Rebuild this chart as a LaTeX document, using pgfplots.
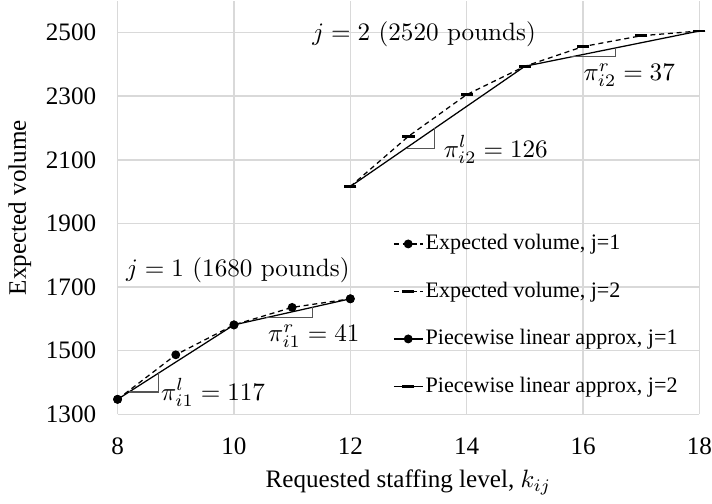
\documentclass[border=0pt]{standalone}
\usepackage{fontspec}
\setmainfont{Liberation Serif}
\newfontfamily\lmfont{Latin Modern Roman}
\usepackage{pgfplots}
\pgfplotsset{compat=1.18}

\definecolor{gridgray}{RGB}{217,217,217}
\definecolor{slopegray}{RGB}{85,85,85}

\begin{document}
\begin{tikzpicture}
\begin{axis}[
  scale only axis, width=231.6pt, height=164.6pt,
  xmin=8, xmax=18, ymin=1300, ymax=2600,
  xtick={8,10,...,18}, ytick={1300,1500,...,2500},
  grid=major, grid style={gridgray, line width=0.6pt},
  axis line style={draw=none}, major tick length=0pt,
  /pgf/number format/assume math mode=true,
  /pgf/number format/1000 sep={},
  xticklabel style={yshift=-6pt, inner xsep=0pt},
  yticklabel style={xshift=-5pt},
  xlabel={Requested staffing level, $k_{ij}$},
  xlabel style={yshift=1pt},
  ylabel={Expected volume},
  ylabel style={yshift=-1pt},
  legend cell align=left,
  legend style={draw=none, fill=none, font=\fontsize{8.8}{10.5}\selectfont,
    at={(axis cs:12.73,1875)}, anchor=north west,
    row sep=9.3pt, inner sep=0pt, nodes={inner sep=1pt}},
  legend image code/.code={\draw[mark repeat=2, mark phase=2, #1]
    plot coordinates {(0cm,0cm)(0.2cm,0cm)(0.4cm,0cm)};},
]
% expected volume, j = 1
\addplot[black, line width=0.5pt, dash pattern=on 2pt off 1.5pt,
  mark=*, mark size=1.5pt, mark options={solid}]
  coordinates {(8,1347)(9,1487)(10,1581)(11,1636)(12,1663)};
\addlegendentry{Expected volume, j=1}
% expected volume, j = 2
\addplot[black, line width=0.5pt, dash pattern=on 2pt off 1.5pt,
  mark=-, mark size=2.4pt, mark options={solid, line width=1.1pt}]
  coordinates {(12,2016)(13,2174)(14,2305)(15,2394)(16,2456)(17,2490)(18,2505)};
\addlegendentry{Expected volume, j=2}
% piecewise linear approximation, j = 1
\addplot[black, line width=0.5pt, mark=*, mark size=1.5pt]
  coordinates {(8,1347)(10,1581)(12,1663)};
\addlegendentry{Piecewise linear approx, j=1}
% piecewise linear approximation, j = 2
\addplot[black, line width=0.5pt, mark=-, mark size=2.4pt,
  mark options={line width=1.1pt}]
  coordinates {(12,2016)(15,2394)(18,2505)};
\addlegendentry{Piecewise linear approx, j=2}

% slope triangles
\addplot[slopegray, line width=0.5pt, forget plot]
  coordinates {(8.2,1370.4)(8.7,1370.4)(8.7,1428.9)};
\addplot[slopegray, line width=0.5pt, forget plot]
  coordinates {(10.55,1603.6)(11.35,1603.6)(11.35,1636.4)};
\addplot[slopegray, line width=0.5pt, forget plot]
  coordinates {(12.95,2135.7)(13.45,2135.7)(13.45,2198.7)};
\addplot[slopegray, line width=0.5pt, forget plot]
  coordinates {(15.8,2423.6)(16.56,2423.6)(16.56,2451.7)};

% slope labels
\node[anchor=west, inner sep=0pt] at (axis cs:8.74,1368) {$\pi^{l}_{i1} = 117$};
\node[anchor=west, inner sep=0pt] at (axis cs:10.58,1545) {$\pi^{r}_{i1} = 41$};
\node[anchor=west, inner sep=0pt] at (axis cs:13.6,2132) {$\pi^{l}_{i2} = 126$};
\node[anchor=west, inner sep=0pt] at (axis cs:16.0,2366) {$\pi^{r}_{i2} = 37$};
\node[anchor=west, inner sep=0pt] at (axis cs:8.14,1753) {\lmfont $j=1$ (1680 pounds)};
\node[anchor=west, inner sep=0pt] at (axis cs:11.34,2496) {\lmfont $j=2$ (2520 pounds)};
\end{axis}
\end{tikzpicture}
\end{document}
